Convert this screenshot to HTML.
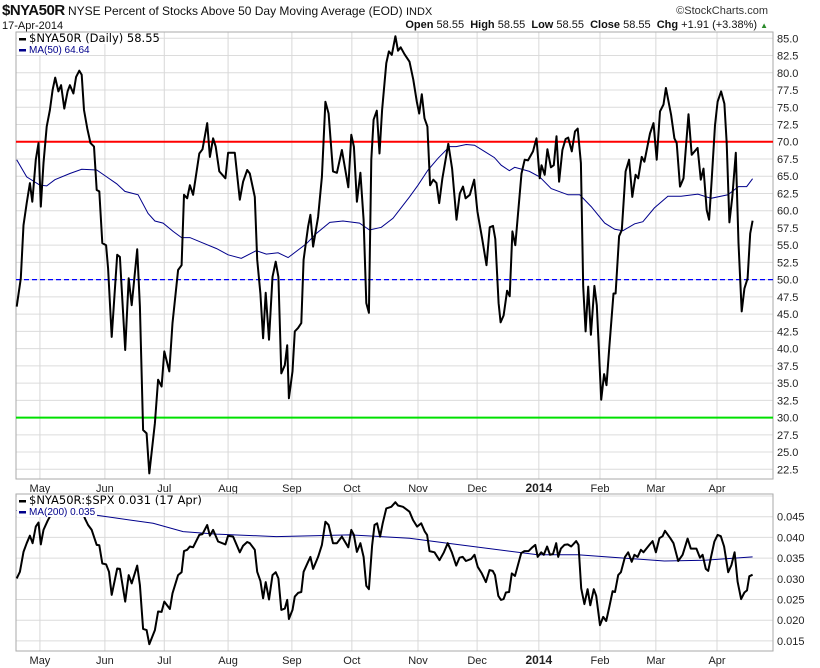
<!DOCTYPE html>
<html><head><meta charset="utf-8">
<style>
body{margin:0;background:#fff;width:820px;height:668px;overflow:hidden;font-family:"Liberation Sans",sans-serif;}
svg{position:absolute;left:0;top:0;}
</style></head>
<body>
<svg id="chart" width="820" height="668" font-family="Liberation Sans, sans-serif"></svg>
<script>
// ---- data ----
const mainDays=[0,1.4,2.3,3.4,4.5,5.3,6.5,7.4,8.2,9.1,10.2,11.3,12.2,13.1,14.2,15.1,16.2,17.3,18.1,19.3,20.2,21.3,22.1,22.9,24.0,25.1,26.3,27.2,28.1,29.1,30.4,31.1,32.3,34.2,35.1,36.9,38.1,39.1,41.0,41.9,43.0,44.2,45.1,47.0,48.1,49.3,50.2,51.9,53.0,54.9,56.1,56.9,58.0,58.9,60.0,62.1,63.2,64.8,65.7,66.8,67.7,68.9,71.0,71.9,74.2,75.9,77.0,78.4,79.3,81.0,81.8,82.9,83.8,84.7,85.8,87.0,88.1,89.0,90.0,91.2,92.0,92.6,93.8,94.6,95.7,96.8,97.6,99.1,99.9,100.8,102.5,103.8,105.0,106.1,107.6,108.9,110.6,112.8,113.8,114.7,115.7,116.9,118.0,118.9,119.8,120.6,121.4,122.5,123.4,124.3,125.7,126.6,127.6,128.8,129.7,130.6,131.9,133.6,134.9,136.1,136.9,137.8,138.7,139.7,140.6,141.7,142.8,143.7,144.8,146.8,148.1,149.6,150.7,151.8,152.7,154.1,155.6,156.7,158.3,159.8,160.9,162.0,162.8,163.9,164.6,165.6,166.8,167.7,168.6,169.6,171.7,172.8,173.9,175.6,176.8,177.9,178.5,179.6,180.5,181.7,182.7,183.6,184.5,185.6,186.7,187.6,188.8,189.9,190.8,191.9,192.7,193.5,194.4,195.3,196.5,197.3,198.8,199.8,200.6,201.5,203.0,203.7,204.9,205.8,207.1,208.3,209.4,210.5,211.4,212.6,213.5,215.4,216.6,217.7,218.8,220.0,220.8,222.6,223.7,224.5,225.6,226.8,228.5,229.6,231.6,232.7,233.6,234.7,235.5,236.4,237.5,238.4,239.6,240.7,241.5,242.4,243.4,244.6,245.5,246.6,247.5,248.6,249.5,250.3];
const mainVals=[46.1,50.2,57.9,61.1,64.0,61.3,67.4,69.8,60.6,66.9,72.2,74.6,77.5,79.3,77.3,78.2,74.8,77.3,78.2,77.0,79.4,80.3,79.7,74.6,71.9,69.8,69.3,63.0,62.8,55.3,55.0,51.6,41.7,53.6,53.3,39.8,50.2,46.3,54.4,46.1,28.2,27.7,21.9,29.2,35.5,34.5,39.6,36.7,43.7,51.4,52.1,62.3,61.8,63.7,62.3,68.3,68.9,72.7,67.8,70.5,69.3,65.7,64.7,68.4,68.4,61.6,64.2,65.9,65.4,62.0,52.9,48.0,41.5,48.1,41.3,50.4,52.6,50.4,36.4,37.6,40.5,32.8,36.7,42.5,43.0,43.7,52.9,57.7,59.4,54.8,59.1,64.9,75.8,74.1,65.7,65.5,68.8,63.4,71.0,69.3,61.3,65.5,58.7,46.6,45.2,67.4,73.2,74.5,68.3,74.6,81.4,83.1,82.6,85.3,83.2,83.7,82.7,81.6,79.0,75.8,74.1,76.9,73.4,72.2,63.7,64.5,64.0,61.1,64.7,69.7,66.1,58.7,62.5,63.5,61.8,62.3,64.5,59.9,56.0,52.1,57.6,57.8,55.9,46.6,43.8,44.8,48.4,47.6,57.0,55.0,65.4,67.4,67.3,68.6,70.5,64.7,66.6,65.2,68.9,66.3,66.6,70.8,64.2,68.8,70.4,70.6,68.6,71.5,71.9,66.9,49.0,42.5,49.0,42.0,49.1,46.3,32.6,36.3,34.7,39.8,48.0,48.0,56.3,57.2,65.7,67.4,62.0,65.2,64.7,67.8,67.1,71.2,72.7,67.4,74.4,75.4,77.8,73.9,70.5,69.8,63.5,64.7,74.0,68.1,69.1,64.5,66.1,60.1,58.7,64.5,72.4,75.8,77.3,75.5,69.8,58.3,62.0,68.4,55.3,45.4,48.7,50.2,56.7,58.55];
const maDays=[0,3.4,7.9,10.2,13,18.1,22.1,27.2,30.6,34,36.8,41.3,44.7,47,49.8,53.2,56.1,58.9,63.4,68,71.9,76.4,81.5,84.9,88.9,92.3,95.1,98.5,101.9,106.5,111,116.6,120,124,128,133.6,136.5,139.9,143.3,147.2,149.5,152.9,155.7,159.1,162.5,164.8,167.6,169.4,174.4,177.9,181.8,187.5,191.5,195.4,200,203.4,206.2,210.2,213,216.9,221.5,226,231.7,236.2,241.9,245.5,248.3,250.3];
const maVals=[67.4,64.9,63.7,63.6,64.5,65.4,66.0,65.9,64.9,63.9,62.8,62.3,59.6,58.5,58.2,57.0,56.1,56.1,55.3,54.5,53.6,53.1,54.2,53.7,53.9,53.2,54.1,55.2,56.7,58.3,58.5,58.2,57.2,57.6,58.9,62.0,63.7,65.9,67.6,69.3,69.3,69.6,69.5,68.6,67.7,66.6,65.8,66.3,65.7,64.9,63.2,62.3,62.3,60.6,58.2,57.3,57.1,58.1,58.4,60.4,62.1,62.1,62.4,61.8,62.3,63.5,63.5,64.64];
const ratioDays=[0,1.1,2.3,3.4,4.5,5.4,6.5,7.4,8.2,9.1,10.5,12,14,17,20,22,23.2,24.3,25.5,27.2,28.1,29.1,30.4,31.4,32.3,34.2,35.1,36.9,38.1,39.1,41.0,41.9,43.0,44.2,45.1,47.0,48.1,49.3,50.2,52.1,53.0,54.9,56.1,56.9,58.0,58.9,60.0,62.1,63.2,64.8,65.7,66.8,68.5,71.0,71.9,73.6,75.9,77.0,78.4,79.3,81.0,81.8,82.9,83.8,84.7,85.8,87.0,88.1,89.0,90.0,91.2,92.0,92.6,93.8,94.6,95.7,96.8,97.6,99.1,99.9,100.8,102.5,103.8,105.0,106.1,107.6,108.9,110.6,112.8,113.8,114.7,115.7,116.9,118.0,118.9,119.8,120.9,121.7,122.6,123.6,124.5,125.7,127.4,128.8,129.7,131.4,133.6,134.8,136.2,137.6,138.8,139.6,140.4,142.1,143.8,145.3,146.6,148.0,149.5,150.6,151.7,152.8,154.6,155.7,156.8,158.2,159.6,160.8,161.9,162.7,163.8,164.7,165.6,166.4,167.5,168.4,169.5,171.6,172.7,174.1,175.2,176.4,177.2,178.4,179.3,180.4,181.4,182.4,183.5,184.2,185.1,186.3,187.4,188.6,190.3,191.1,192.0,193.1,194.2,195.1,196.3,197.1,198.4,199.5,200.5,201.6,202.7,203.5,204.6,205.5,206.9,208.0,209.2,210.1,211.2,212.3,213.2,215.2,216.3,217.4,218.6,219.7,220.5,222.3,223.4,225.0,226.5,228.2,229.3,231.2,232.4,233.3,234.4,235.2,236.1,237.3,238.4,239.5,240.6,242.0,243.1,244.2,245.2,246.4,247.5,248.4,249.2,250.3];
const ratioVals=[0.0301,0.0317,0.0365,0.0386,0.0404,0.0386,0.0426,0.0436,0.0383,0.0418,0.044,0.046,0.047,0.046,0.047,0.047,0.0446,0.043,0.0418,0.0382,0.0381,0.0337,0.0335,0.0317,0.0261,0.0325,0.0324,0.0245,0.0309,0.0289,0.0332,0.0285,0.0179,0.0176,0.0142,0.0176,0.0221,0.0220,0.0245,0.0227,0.0265,0.0309,0.0316,0.0367,0.0370,0.0378,0.0376,0.0406,0.0408,0.043,0.0404,0.0418,0.0390,0.0383,0.0404,0.0402,0.0364,0.0380,0.0389,0.0386,0.0370,0.0317,0.0295,0.0253,0.0292,0.0250,0.0309,0.0316,0.0301,0.0225,0.0228,0.0249,0.0203,0.0225,0.0257,0.0266,0.0268,0.0317,0.0341,0.0353,0.0324,0.0353,0.0382,0.0438,0.0430,0.0386,0.0386,0.0402,0.0376,0.0418,0.0406,0.0365,0.0386,0.0353,0.0283,0.0275,0.0380,0.0430,0.0434,0.0402,0.0434,0.0470,0.0474,0.0485,0.0477,0.0474,0.0462,0.0442,0.0426,0.0434,0.0414,0.0406,0.0367,0.0364,0.0345,0.0364,0.0386,0.0364,0.0332,0.0351,0.0353,0.0343,0.0348,0.0358,0.0329,0.0313,0.0292,0.0321,0.0319,0.0309,0.0259,0.0249,0.0251,0.0267,0.0268,0.0313,0.0307,0.0362,0.0367,0.0367,0.0375,0.0382,0.0353,0.0364,0.0358,0.0378,0.0358,0.036,0.0386,0.0353,0.0373,0.0382,0.0383,0.0378,0.0391,0.0382,0.0277,0.0239,0.0275,0.0236,0.0275,0.0259,0.0188,0.0208,0.0198,0.0233,0.0270,0.0268,0.0309,0.0316,0.0353,0.0364,0.0341,0.0358,0.0353,0.0370,0.0364,0.0382,0.0391,0.0364,0.0398,0.0403,0.0416,0.0398,0.0386,0.0343,0.0358,0.0397,0.0373,0.0373,0.0351,0.0358,0.0324,0.0319,0.0350,0.0390,0.0406,0.0403,0.0378,0.0316,0.0333,0.0364,0.0293,0.0251,0.0267,0.0272,0.0306,0.031];
const ma200Days=[0,26.6,46.4,56.6,68,88.3,113.3,133.6,146.6,177.2,190.8,220.3,233.9,250.3];
const ma200Vals=[0.0465,0.0454,0.0434,0.0414,0.0408,0.0402,0.0406,0.0398,0.0386,0.0358,0.0358,0.0343,0.0345,0.0353];
const monthLabels=["May","Jun","Jul","Aug","Sep","Oct","Nov","Dec","2014","Feb","Mar","Apr"];
const monthDays=[7.9,30,50.2,71.9,93.6,114,136.5,156.6,177.6,198.4,217.4,238.2];
const topTicks=[85,82.5,80,77.5,75,72.5,70,67.5,65,62.5,60,57.5,55,52.5,50,47.5,45,42.5,40,37.5,35,32.5,30,27.5,25,22.5];
const botTicks=[0.045,0.040,0.035,0.030,0.025,0.020,0.015];

// ---- scales ----
const L=16,R=773,T1=32,B1=479,T2=494,B2=651;
const x=d=>16.7+d*2.94;
const y1=v=>38.3+(85-v)/2.5*17.24;
const y2=v=>516.7+(0.045-v)/0.005*20.7;
const svg=document.getElementById('chart');
const NS='http://www.w3.org/2000/svg';
function mk(tag,attrs,parent){const e=document.createElementNS(NS,tag);for(const k in attrs)e.setAttribute(k,attrs[k]);(parent||svg).appendChild(e);return e;}
function txt(s,attrs){const e=mk('text',attrs);e.textContent=s;return e;}

// grid
for(const t of topTicks){const g=mk('line',{x1:L,x2:R,y1:y1(t),y2:y1(t),stroke:'#dcdcdc','stroke-width':1});

}
for(const t of botTicks.concat([0.05])){const g=mk('line',{x1:L,x2:R,y1:y2(t),y2:y2(t),stroke:'#dcdcdc','stroke-width':1});

}
monthDays.forEach((d,i)=>{
 const a=mk('line',{x1:x(d),x2:x(d),y1:T1,y2:B1,stroke:'#d8d8d8'});
 
 
 const b=mk('line',{x1:x(d),x2:x(d),y1:T2,y2:B2,stroke:'#d8d8d8'});
 
 
 const bold=monthLabels[i]==='2014';
 for(const yy of [492,664]){const t=txt(monthLabels[i],{x:x(d),y:yy,'text-anchor':'middle','font-size':bold?12:11,'font-weight':bold?'bold':'normal',fill:'#222'});
 
 }
});
// panels
const p1=mk('rect',{x:L,y:T1,width:R-L,height:B1-T1,fill:'none',stroke:'#aaa'});


const p2=mk('rect',{x:L,y:T2,width:R-L,height:B2-T2,fill:'none',stroke:'#aaa'});


// ticks
for(const t of topTicks){const e=txt(t.toFixed(1),{x:777,y:y1(t)+4,'font-size':11,fill:'#222'});

}
for(const t of botTicks){const e=txt(t.toFixed(3),{x:777,y:y2(t)+4,'font-size':11,fill:'#222'});

}
// reference lines
const rl=mk('line',{x1:L,x2:R,y1:y1(70),y2:y1(70),stroke:'#f00','stroke-width':2});


const gl=mk('line',{x1:L,x2:R,y1:y1(30),y2:y1(30),stroke:'#00e000','stroke-width':2});


const bl=mk('line',{x1:L,x2:R,y1:y1(50),y2:y1(50),stroke:'#0000ff','stroke-width':1.3,'stroke-dasharray':'5,3'});


// series
function path(days,vals,ys){return days.map((d,i)=>(i?'L':'M')+x(d).toFixed(1)+','+ys(vals[i]).toFixed(1)).join('');}
const ma=mk('path',{d:path(maDays,maVals,y1),fill:'none',stroke:'#00008b','stroke-width':1});


const ml=mk('path',{d:path(mainDays,mainVals,y1),fill:'none',stroke:'#000','stroke-width':2,'stroke-linejoin':'round'});


const ma2=mk('path',{d:path(ma200Days,ma200Vals,y2),fill:'none',stroke:'#00008b','stroke-width':1});


const rl2=mk('path',{d:path(ratioDays,ratioVals,y2),fill:'none',stroke:'#000','stroke-width':2,'stroke-linejoin':'round'});


// legends
function legend(lines,y0,name){
 lines.forEach((ln,i)=>{
  const yy=y0+i*11;
  const bg=mk('rect',{x:17,y:yy-9,width:ln[2],height:11,fill:'#fff'});
  
  
  const sw=mk('rect',{x:19,y:yy-4,width:7,height:2.5,fill:ln[1]});
  
  
  const t=txt(ln[0],{x:29,y:yy,'font-size':i?10:11.5,fill:ln[1],'font-family':i?'Liberation Sans, sans-serif':'DejaVu Sans, sans-serif'});
  
  
 });
}
legend([['$NYA50R (Daily) 58.55','#000',142],['MA(50) 64.64','#00008b',74]],42,'main-legend');
legend([['$NYA50R:$SPX 0.031 (17 Apr)','#000',185],['MA(200) 0.035','#00008b',80]],504,'ratio-legend');
</script>
<div style="position:absolute;left:2px;top:2px;font-size:12px;color:#111;white-space:nowrap"><b style="font-size:15px;letter-spacing:-0.5px">$NYA50R</b> NYSE Percent of Stocks Above 50 Day Moving Average (EOD) <span style="font-size:11px">INDX</span></div>
<div style="position:absolute;left:2px;top:20px;font-size:11px;color:#111">17-Apr-2014</div>
<div style="position:absolute;right:52px;top:5px;font-size:11px;color:#333">©StockCharts.com</div>
<div style="position:absolute;right:52px;top:19px;font-size:11px;color:#111;white-space:nowrap"><b>Open</b> 58.55 &nbsp;<b>High</b> 58.55 &nbsp;<b>Low</b> 58.55 &nbsp;<b>Close</b> 58.55 &nbsp;<b>Chg</b> +1.91 (+3.38%) <span style="color:#2a8a2a;font-size:8px">▲</span></div>
</body></html>
